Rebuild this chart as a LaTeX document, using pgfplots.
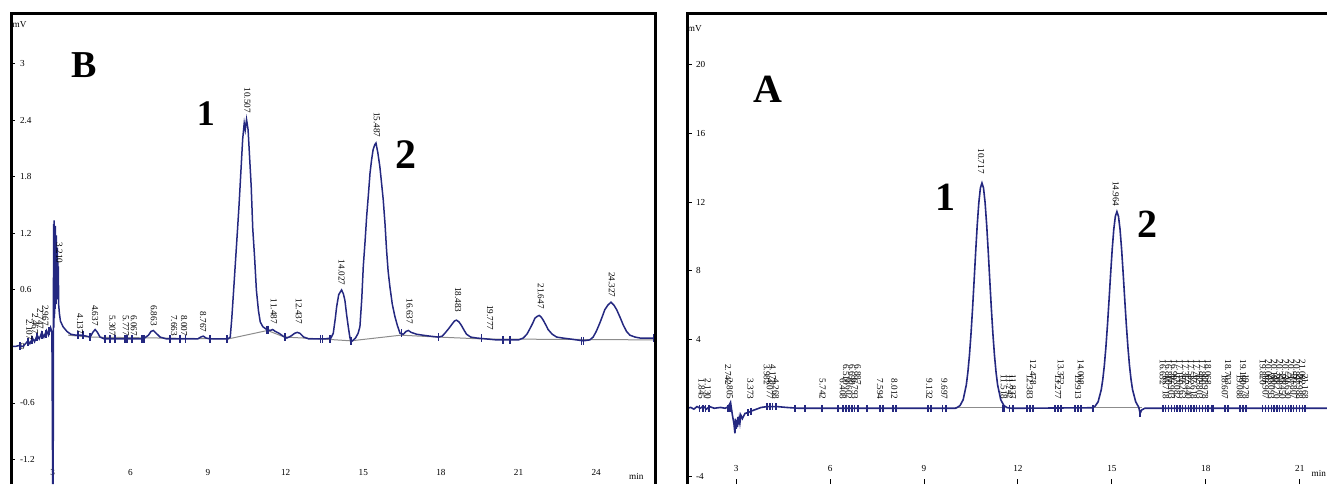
\documentclass[border=0pt]{standalone}
\usepackage{pgfplots}
\pgfplotsset{compat=1.18}
\usepackage{pgfplotstable}
\usepackage{fontspec}
\setmainfont{Liberation Serif}
\definecolor{trace}{RGB}{36,40,128}
\definecolor{basegrey}{RGB}{140,140,140}
\newcommand\lbl{\fontsize{4.6}{4.6}\selectfont}

% ---------------- Panel B ----------------
\pgfplotstableread{
t v
1.39 0.00
1.55 0.00
1.70 0.01
1.85 0.00
1.95 0.03
2.05 0.06
2.12 0.03
2.22 0.09
2.30 0.05
2.40 0.12
2.48 0.08
2.58 0.15
2.66 0.10
2.76 0.17
2.84 0.12
2.92 0.20
2.97 0.15
3.00 -1.46
3.01 0.10
3.02 -1.46
3.03 0.60
3.04 1.30
3.05 0.20
3.06 1.34
3.07 0.30
3.08 1.20
3.09 0.40
3.10 1.28
3.11 0.50
3.12 1.10
3.13 0.45
3.14 1.18
3.15 0.60
3.16 1.00
3.17 0.50
3.18 1.05
3.19 0.55
3.20 0.90
3.21 0.50
3.22 0.85
3.23 0.45
3.26 0.35
3.30 0.27
3.40 0.21
3.55 0.16
3.70 0.13
3.90 0.12
4.10 0.12
4.30 0.11
4.45 0.10
4.55 0.15
4.64 0.18
4.73 0.15
4.83 0.10
5.00 0.08
5.50 0.08
6.00 0.08
6.50 0.08
6.70 0.12
6.80 0.16
6.89 0.17
7.00 0.14
7.15 0.10
7.40 0.08
8.00 0.08
8.60 0.08
8.72 0.10
8.82 0.11
8.92 0.09
9.10 0.08
9.50 0.08
9.77 0.08
9.86 0.10
9.92 0.30
9.98 0.55
10.05 0.85
10.12 1.15
10.20 1.50
10.27 1.85
10.34 2.20
10.40 2.37
10.44 2.30
10.49 2.41
10.55 2.30
10.61 2.00
10.67 1.70
10.73 1.25
10.80 0.95
10.87 0.60
10.95 0.38
11.02 0.26
11.12 0.21
11.27 0.18
11.40 0.17
11.50 0.18
11.60 0.16
11.75 0.14
11.90 0.11
12.05 0.09
12.20 0.11
12.35 0.14
12.45 0.15
12.55 0.14
12.70 0.10
12.90 0.08
13.20 0.08
13.50 0.08
13.75 0.09
13.84 0.14
13.92 0.30
13.97 0.42
14.05 0.55
14.16 0.60
14.23 0.56
14.29 0.49
14.36 0.33
14.42 0.21
14.48 0.10
14.52 0.05
14.58 0.06
14.70 0.09
14.80 0.14
14.87 0.21
14.94 0.50
15.00 0.85
15.07 1.12
15.13 1.38
15.20 1.62
15.26 1.84
15.32 1.98
15.38 2.09
15.44 2.14
15.49 2.16
15.56 2.06
15.64 1.91
15.70 1.75
15.77 1.56
15.84 1.30
15.90 1.02
15.96 0.80
16.03 0.63
16.12 0.45
16.22 0.32
16.32 0.22
16.42 0.14
16.55 0.13
16.65 0.16
16.74 0.17
16.85 0.15
17.06 0.13
17.30 0.12
17.57 0.11
17.90 0.10
18.05 0.11
18.15 0.14
18.30 0.19
18.41 0.23
18.52 0.27
18.60 0.28
18.70 0.26
18.80 0.22
18.90 0.17
18.99 0.13
19.15 0.10
19.38 0.09
19.76 0.08
20.15 0.07
20.73 0.07
21.00 0.07
21.18 0.09
21.32 0.13
21.44 0.19
21.55 0.25
21.63 0.30
21.72 0.32
21.80 0.33
21.88 0.31
21.95 0.28
22.05 0.23
22.14 0.18
22.30 0.13
22.47 0.10
22.70 0.09
22.98 0.08
23.50 0.06
23.75 0.07
23.88 0.10
24.00 0.16
24.14 0.25
24.25 0.33
24.33 0.39
24.45 0.44
24.57 0.47
24.68 0.44
24.79 0.39
24.92 0.31
25.04 0.23
25.17 0.16
25.30 0.12
25.50 0.10
25.69 0.09
26.00 0.09
26.27 0.09
}\traceB

\pgfplotstableread{
t v
3.60 0.12
4.40 0.10
9.78 0.08
11.30 0.17
11.95 0.10
13.40 0.08
14.52 0.06
16.45 0.12
17.90 0.10
19.60 0.08
26.27 0.07
}\baseB

\pgfplotstableread{
t v
1.74 0.00
2.05 0.05
2.20 0.07
2.39 0.10
2.59 0.12
2.74 0.13
2.86 0.16
3.98 0.12
4.17 0.12
4.44 0.10
5.02 0.08
5.21 0.08
5.41 0.08
5.79 0.08
5.87 0.08
6.06 0.08
6.45 0.08
6.53 0.08
7.53 0.08
7.92 0.08
8.12 0.08
9.08 0.08
9.73 0.08
11.28 0.18
11.32 0.18
11.97 0.10
13.35 0.08
13.42 0.08
13.71 0.08
14.52 0.06
16.48 0.14
17.90 0.10
19.57 0.09
20.40 0.07
20.67 0.07
23.43 0.06
23.52 0.06
26.20 0.09
}\marksB

\pgfplotstableread{
t ly lab
2.10 0.06 2.107
2.32 0.12 2.467
2.52 0.17 2.747
2.72 0.21 2.967
3.26 0.87 3.210
4.06 0.12 4.137
4.64 0.21 4.637
5.31 0.10 5.307
5.83 0.10 5.777
6.14 0.10 6.067
6.91 0.21 6.863
7.69 0.10 7.663
8.08 0.10 8.007
8.81 0.14 8.767
10.52 2.47 10.507
11.55 0.23 11.487
12.51 0.23 12.437
14.16 0.64 14.027
15.52 2.21 15.487
16.79 0.23 16.637
18.66 0.35 18.483
19.90 0.16 19.777
21.86 0.39 21.647
24.60 0.51 24.327
}\labelsB

% ---------------- Panel A ----------------
\pgfplotstableread{
t v
1.43 0.00
1.55 0.05
1.65 -0.05
1.75 0.10
1.85 0.00
1.95 0.12
2.05 -0.05
2.15 0.10
2.30 0.00
2.50 0.05
2.65 0.00
2.75 0.10
2.82 0.35
2.88 -0.40
2.93 -0.90
2.96 -1.46
2.98 -0.60
3.00 -1.20
3.02 -0.70
3.04 -1.10
3.06 -0.50
3.08 -0.95
3.10 -0.60
3.12 -0.85
3.15 -0.40
3.20 -0.60
3.28 -0.30
3.38 -0.25
3.50 -0.15
3.65 -0.05
3.80 0.05
4.00 0.10
4.30 0.10
4.60 0.05
5.00 0.00
6.00 0.00
7.00 0.00
8.00 0.00
9.00 0.00
10.00 0.00
10.05 0.04
10.15 0.16
10.25 0.50
10.35 1.36
10.40 2.10
10.45 3.08
10.50 4.33
10.55 5.81
10.60 7.45
10.65 9.14
10.70 10.70
10.75 11.98
10.80 12.83
10.85 13.12
10.90 12.83
10.95 11.98
11.00 10.70
11.05 9.14
11.10 7.45
11.15 5.81
11.20 4.33
11.25 3.08
11.30 2.10
11.35 1.36
11.45 0.50
11.55 0.16
11.65 0.04
11.80 0.00
14.36 0.03
14.46 0.11
14.56 0.38
14.66 1.08
14.71 1.69
14.76 2.52
14.81 3.60
14.86 4.89
14.91 6.34
14.96 7.85
15.01 9.26
15.06 10.42
15.11 11.18
15.16 11.45
15.21 11.18
15.26 10.42
15.31 9.26
15.36 7.85
15.41 6.34
15.46 4.89
15.51 3.60
15.56 2.52
15.61 1.69
15.66 1.08
15.76 0.38
15.86 0.05
15.90 -0.30
15.95 -0.10
16.05 0.00
21.87 0.00
}\traceA

\pgfplotstableread{
t v
1.84 0
1.94 0
2.03 0
2.13 0
2.74 0
2.80 0
3.38 -0.25
3.47 -0.18
3.98 0.1
4.08 0.1
4.17 0.1
4.27 0.1
4.88 0
5.20 0
5.74 0
6.25 0
6.41 0
6.51 0
6.60 0
6.70 0
6.79 0
6.89 0
7.18 0
7.59 0
7.69 0
8.01 0
8.10 0
9.13 0
9.22 0
9.60 0
9.70 0
11.52 0
11.55 0
11.58 0
11.74 0
11.84 0
12.29 0
12.38 0
12.48 0
13.18 0
13.28 0
13.37 0
13.82 0
13.92 0
14.01 0
14.40 0
15.90 -0.3
16.63 0
16.72 0
16.81 0
16.90 0
16.99 0
17.08 0
17.17 0
17.26 0
17.35 0
17.44 0
17.53 0
17.62 0
17.71 0
17.80 0
17.89 0
17.98 0
18.07 0
18.20 0
18.23 0
18.61 0
18.71 0
19.09 0
19.19 0
19.28 0
19.82 0
19.91 0
20.00 0
20.09 0
20.18 0
20.27 0
20.36 0
20.45 0
20.54 0
20.63 0
20.72 0
20.81 0
20.90 0
20.99 0
21.08 0
21.17 0
}\marksA

\pgfplotstableread{
t ly lab
1.90 0.45 1.845
2.10 0.45 2.130
2.74 1.30 2.742
2.80 0.45 2.805
3.45 0.45 3.373
3.98 1.30 3.982
4.08 0.45 4.077
4.17 1.30 4.173
4.27 0.45 4.268
5.76 0.45 5.742
6.41 0.45 6.408
6.51 1.30 6.510
6.60 0.45 6.602
6.70 1.30 6.698
6.79 0.45 6.793
6.89 1.30 6.887
7.60 0.45 7.594
8.05 0.45 8.012
9.17 0.45 9.132
9.65 0.45 9.697
10.82 13.60 10.717
11.55 0.45 11.518
11.74 0.45 11.742
11.84 0.45 11.837
12.38 0.45 12.383
12.48 1.30 12.478
13.28 0.45 13.277
13.37 1.30 13.372
13.92 0.45 13.913
14.01 1.30 14.008
15.13 11.70 14.964
16.63 1.30 16.632
16.72 0.45 16.718
16.81 1.30 16.810
16.90 0.45 16.903
16.99 1.30 16.992
17.08 0.45 17.082
17.17 1.30 17.170
17.26 0.45 17.263
17.35 1.30 17.352
17.44 0.45 17.440
17.53 1.30 17.532
17.62 0.45 17.618
17.71 1.30 17.707
17.80 0.45 17.803
17.89 1.30 17.890
17.98 0.45 17.978
18.07 1.30 18.068
18.61 0.45 18.607
18.71 1.30 18.703
19.09 0.45 19.088
19.19 1.30 19.190
19.28 0.45 19.278
19.82 1.30 19.820
19.91 0.45 19.907
20.00 1.30 20.002
20.09 0.45 20.093
20.18 1.30 20.180
20.27 0.45 20.270
20.36 1.30 20.358
20.45 0.45 20.450
20.54 1.30 20.538
20.63 0.45 20.630
20.72 1.30 20.717
20.81 0.45 20.807
20.90 1.30 20.897
20.99 0.45 20.988
21.08 1.30 21.082
21.17 0.45 21.168
}\labelsA

\pgfplotsset{chrom/.style={
  scale only axis, anchor=south west, clip=false,
  axis line style={draw=none},
  tick pos=left, tick align=inside,
  major tick length=2pt,
  tick style={black, line width=0.5pt},
  ticklabel style={font=\fontsize{4.6}{5}\selectfont},
  yticklabel style={anchor=west, xshift=1pt},
  xticklabel style={anchor=south},
  /pgf/number format/assume math mode=true,
  every node near coord/.append style={rotate=-90, anchor=east, font=\lbl, inner sep=0.3pt, text=black},
  nodes near coords align={anchor=east},
}}

\begin{document}
\begin{tikzpicture}
% ===== Panel B =====
\begin{axis}[chrom,
  at={(5.5pt,0pt)}, width=322pt, height=235pt,
  xmin=1.39, xmax=26.27, ymin=-1.46, ymax=3.53,
  xtick={3,6,9,12,15,18,21,24},
  xticklabels={3,6,9,12,15,18,21,24},
  xtick style={draw=none},
  xticklabel style={yshift=0.6pt},
  ytick={-1.2,-0.6,0,0.6,1.2,1.8,2.4,3},
  yticklabels={-1.2,-0.6,0,0.6,1.2,1.8,2.4,3},
]
\addplot[basegrey, line width=0.5pt] table[x=t,y=v] \baseB;
\addplot[trace, line width=0.75pt] table[x=t,y=v] \traceB;
\addplot[trace, only marks, mark=|, mark size=2pt, mark options={line width=0.65pt}] table[x=t,y=v] \marksB;
\addplot[draw=none, nodes near coords, point meta=explicit symbolic] table[x=t,y=ly,meta=lab] \labelsB;
\draw[line width=1.5pt, line join=miter] (rel axis cs:0,0) -- (rel axis cs:0,1) -- (rel axis cs:1,1) -- (rel axis cs:1,0);
\node[font=\fontsize{4.6}{5}\selectfont] at (axis cs:1.72,3.42) {mV};
\node[font=\fontsize{4.6}{5}\selectfont] at (axis cs:25.55,-1.385) {min};
\node[font=\fontsize{19}{19}\selectfont\bfseries] at (axis cs:4.23,2.99) {B};
\node[font=\fontsize{18}{18}\selectfont\bfseries] at (axis cs:8.92,2.47) {1};
\node[font=\fontsize{21}{21}\selectfont\bfseries] at (axis cs:16.65,2.04) {2};
\end{axis}
% ===== Panel A =====
\begin{axis}[chrom,
  at={(343.5pt,0pt)}, width=320pt, height=235.5pt,
  xmin=1.43, xmax=21.87, ymin=-4.41, ymax=23.02,
  xtick={3,6,9,12,15,18,21},
  xticklabels={3,6,9,12,15,18,21},
  major tick length=2.5pt,
  xticklabel style={yshift=2.6pt},
  ytick={-4,4,8,12,16,20},
  yticklabels={-4,4,8,12,16,20},
]
\addplot[basegrey, line width=0.5pt] coordinates {(10.0,0.05) (11.6,0.05)};
\addplot[basegrey, line width=0.5pt] coordinates {(14.4,0.05) (15.95,0.05)};
\addplot[trace, line width=0.8pt] table[x=t,y=v] \traceA;
\addplot[trace, only marks, mark=|, mark size=1.7pt, mark options={line width=0.65pt}] table[x=t,y=v] \marksA;
\addplot[draw=none, nodes near coords, point meta=explicit symbolic] table[x=t,y=ly,meta=lab] \labelsA;
\draw[line width=1.5pt, line join=miter] (rel axis cs:0,0) -- (rel axis cs:0,1) -- (rel axis cs:1,1);
\node[font=\fontsize{4.6}{5}\selectfont] at (axis cs:1.68,22.09) {mV};
\node[font=\fontsize{4.6}{5}\selectfont] at (axis cs:21.61,-3.77) {min};
\node[font=\fontsize{20}{20}\selectfont\bfseries] at (axis cs:4.02,18.6) {A};
\node[font=\fontsize{20}{20}\selectfont\bfseries] at (axis cs:9.70,12.31) {1};
\node[font=\fontsize{20}{20}\selectfont\bfseries] at (axis cs:16.15,10.73) {2};
\end{axis}
\pgfresetboundingbox
\useasboundingbox (0,0) rectangle (663.5pt,242pt);
\end{tikzpicture}
\end{document}
